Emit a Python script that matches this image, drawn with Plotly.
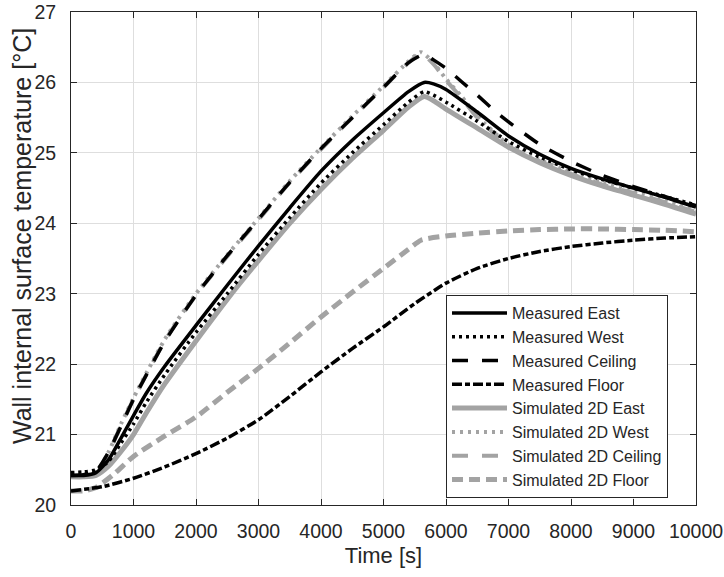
import plotly.graph_objects as go

# ---------------- data ----------------
t_meas_east = [0, 200, 400, 600, 800, 1000, 1200, 1500, 2000, 2500, 3000, 3500, 4000, 4500, 5000, 5400, 5650,
               5800, 6000, 6500, 7000, 7500, 8000, 8500, 9000, 9500, 10000]
meas_east = [20.42, 20.42, 20.46, 20.64, 20.95, 21.27, 21.58, 21.97, 22.55, 23.12, 23.68, 24.22, 24.74, 25.18, 25.57, 25.87, 26.0,
             25.98, 25.9, 25.58, 25.24, 24.98, 24.78, 24.63, 24.5, 24.37, 24.23]

t_meas_west = [0, 200, 400, 600, 800, 1000, 1200, 1500, 2000, 2500, 3000, 3500, 4000, 4500, 5000, 5400, 5650,
               5800, 6000, 6500, 7000, 7500, 8000, 8500, 9000, 9500, 10000]
meas_west = [20.46, 20.47, 20.5, 20.62, 20.88, 21.15, 21.45, 21.85, 22.45, 23.0, 23.56, 24.08, 24.57, 25.0, 25.4, 25.72, 25.87,
             25.82, 25.72, 25.45, 25.16, 24.94, 24.76, 24.62, 24.5, 24.38, 24.26]

t_meas_ceil = [0, 200, 400, 600, 800, 1000, 1500, 2000, 2500, 3000, 3500, 4000, 4500, 5000, 5400, 5650,
               5800, 6000, 6250, 6500, 6800, 7000, 7500, 8000, 8500, 9000, 9500, 10000]
meas_ceil = [20.42, 20.43, 20.48, 20.75, 21.12, 21.5, 22.32, 22.98, 23.54, 24.06, 24.58, 25.06, 25.5, 25.93, 26.28, 26.4,
             26.32, 26.2, 26.01, 25.82, 25.58, 25.44, 25.12, 24.88, 24.68, 24.52, 24.38, 24.25]

t_meas_floor = [0, 500, 1000, 1500, 2000, 2500, 3000, 3500, 4000, 4500, 5000, 5500, 6000, 6500, 7000, 7500, 8000,
                8500, 9000, 9500, 10000]
meas_floor = [20.2, 20.26, 20.38, 20.54, 20.73, 20.95, 21.21, 21.54, 21.89, 22.22, 22.53, 22.86, 23.15, 23.36, 23.5, 23.6, 23.67,
              23.72, 23.76, 23.79, 23.81]

t_sim_east = [0, 200, 400, 600, 800, 1000, 1200, 1500, 2000, 2500, 3000, 3500, 4000, 4500, 5000, 5400, 5650,
              5800, 6000, 6500, 7000, 7500, 8000, 8500, 9000, 9500, 10000]
sim_east = [20.4, 20.4, 20.42, 20.55, 20.76, 21.0, 21.3, 21.72, 22.33, 22.92, 23.47, 24.0, 24.48, 24.92, 25.32, 25.65, 25.8,
            25.74, 25.62, 25.35, 25.08, 24.86, 24.68, 24.53, 24.4, 24.27, 24.13]

t_sim_west = [0, 200, 400, 600, 800, 1000, 1500, 2000, 2500, 3000, 3500, 4000, 4500, 5000, 5400, 5600,
              5800, 6000, 6250, 6500, 7000, 7500, 8000, 8500, 9000, 9500, 10000]
sim_west = [20.4, 20.41, 20.47, 20.75, 21.15, 21.52, 22.35, 23.0, 23.55, 24.07, 24.6, 25.07, 25.52, 25.95, 26.3, 26.43,
            26.28, 26.05, 25.8, 25.52, 25.12, 24.9, 24.72, 24.57, 24.45, 24.32, 24.18]

t_sim_ceil = [0, 200, 400, 600, 800, 1000, 1500, 2000, 2500, 3000, 3500, 4000, 4500, 5000, 5400, 5600,
              5800, 6000, 6250, 6500, 7000, 7500, 8000, 8500, 9000, 9500, 10000]
sim_ceil = [20.4, 20.41, 20.46, 20.74, 21.13, 21.5, 22.33, 22.98, 23.53, 24.05, 24.58, 25.05, 25.5, 25.93, 26.28, 26.41,
            26.26, 26.03, 25.78, 25.5, 25.1, 24.88, 24.7, 24.55, 24.43, 24.3, 24.16]

t_sim_floor = [0, 200, 400, 700, 1000, 1500, 2000, 2500, 3000, 3500, 4000, 4500, 5000, 5400, 5600,
               6000, 6500, 7000, 7500, 8000, 8500, 9000, 9500, 10000]
sim_floor = [20.2, 20.2, 20.25, 20.45, 20.69, 20.98, 21.25, 21.6, 21.94, 22.3, 22.67, 23.02, 23.36, 23.63, 23.76,
             23.82, 23.86, 23.89, 23.91, 23.92, 23.92, 23.91, 23.9, 23.88]

x_ticks = [0, 1000, 2000, 3000, 4000, 5000, 6000, 7000, 8000, 9000, 10000]
y_ticks = [20, 21, 22, 23, 24, 25, 26, 27]

BLACK = "#000000"
GRAY = "#a3a3a3"
TXT = "#262626"
FONT = "Liberation Sans, Arial, sans-serif"

series = [
    ("Measured East", t_meas_east, meas_east, BLACK, 3.5, "solid"),
    ("Measured West", t_meas_west, meas_west, BLACK, 3.5, "3px,4px"),
    ("Measured Ceiling", t_meas_ceil, meas_ceil, BLACK, 3.5, "16px,14px"),
    ("Measured Floor", t_meas_floor, meas_floor, BLACK, 3.5, "10px,3px,5px,3px"),
    ("Simulated 2D East", t_sim_east, sim_east, GRAY, 5, "solid"),
    ("Simulated 2D West", t_sim_west, sim_west, GRAY, 4, "3px,5px"),
    ("Simulated 2D Ceiling", t_sim_ceil, sim_ceil, GRAY, 4, "16px,14px"),
    ("Simulated 2D Floor", t_sim_floor, sim_floor, GRAY, 5, "11px,6px"),
]

fig = go.Figure()
# draw simulated (gray) first so the black measured lines sit on top, keep legend order
draw_order = [4, 5, 6, 7, 0, 1, 2, 3]
for i in draw_order:
    name, t, v, col, w, dash = series[i]
    fig.add_trace(go.Scatter(
        x=t, y=v, mode="lines", name=name,
        line=dict(color=col, width=w, dash=dash, shape="spline", smoothing=0.6),
        legendrank=i + 1, legendgroup=name,
    ))

axis_common = dict(
    showline=True, linecolor=TXT, linewidth=1, mirror="ticks",
    ticks="inside", ticklen=6, tickcolor=TXT,
    showgrid=True, gridcolor="#dedede", gridwidth=1, zeroline=False,
    automargin=False,
    tickfont=dict(family=FONT, size=19.5, color=TXT),
)

fig.update_layout(
    width=724, height=577,
    margin=dict(l=71, r=28, t=12, b=72),
    paper_bgcolor="white", plot_bgcolor="white",
    font=dict(family=FONT, color=TXT),
    xaxis=dict(range=[0, 10000], tickvals=x_ticks, ticktext=[str(v) for v in x_ticks],
               title=dict(text="Time [s]", font=dict(size=22, color=TXT), standoff=6),
               ticklabelstandoff=9, **axis_common),
    yaxis=dict(range=[20, 27], tickvals=y_ticks, ticktext=[str(v) for v in y_ticks],
               ticklabelstandoff=10, **axis_common),
    legend=dict(x=0.6, y=0.426, xanchor="left", yanchor="top",
                bgcolor="white", bordercolor=TXT, borderwidth=1,
                font=dict(size=16, color=TXT), itemwidth=55,
                tracegroupgap=0, traceorder="grouped"),
    showlegend=True,
    annotations=[dict(
        text="Wall internal surface temperature [°C]",
        xref="paper", yref="paper", x=-0.0784, y=0.5456,
        xanchor="center", yanchor="middle", textangle=-90, showarrow=False,
        font=dict(family=FONT, size=25, color=TXT),
    )],
)

fig.write_html("out.html")
